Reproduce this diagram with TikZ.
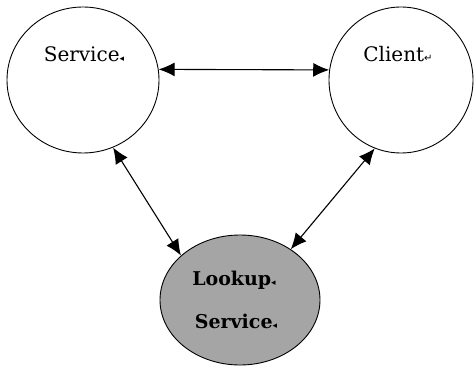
\documentclass[tikz,border=0pt]{standalone}
\usepackage{fontspec}
\setmainfont{DejaVu Serif}
\newfontfamily\symfont{DejaVu Sans}
\usetikzlibrary{shapes.geometric,arrows.meta}
\tikzset{
  bubble/.style={draw, ellipse, line width=0.9pt, inner sep=0pt},
  label text/.style={font=\fontsize{20}{22}\selectfont, inner sep=0pt, anchor=base},
  bold text/.style={label text, font=\fontsize{19}{22}\selectfont\bfseries},
  link/.style={line width=1.1pt, {Latex[length=16pt,width=14pt]}-{Latex[length=16pt,width=14pt]}}
}
\newcommand{\retmark}{{\symfont\fontsize{10}{10}\selectfont ↵}}
\newcommand{\tinymark}{{\symfont\fontsize{9}{9}\selectfont ◂}}
\begin{document}
\begin{tikzpicture}[x=1pt,y=-1pt]
  \useasboundingbox (0,0) rectangle (476,379);
  % the three parties
  \node[bubble, minimum width=152pt, minimum height=146pt] (svc) at (83,80) {};
  \node[bubble, minimum width=144pt, minimum height=146pt] (cli) at (401,80) {};
  \node[bubble, fill={rgb,255:red,165;green,165;blue,165}, minimum width=160pt, minimum height=130pt] (look) at (240,300) {};
  % their names
  \node[label text] (svct) at (84,62) {Service\tinymark};
  \node[label text] (clit) at (398,62) {Client\retmark};
  \node[bold text] (lookt1) at (234,285) {Lookup\tinymark};
  \node[bold text] (lookt2) at (236,328) {Service\tinymark};
  % two-way links
  \draw[link] (svc.8) -- (cli.172);
  \draw[link] (svc.-66) -- (look.143);
  \draw[link] (cli.-111) -- (look.45);
\end{tikzpicture}
\end{document}
